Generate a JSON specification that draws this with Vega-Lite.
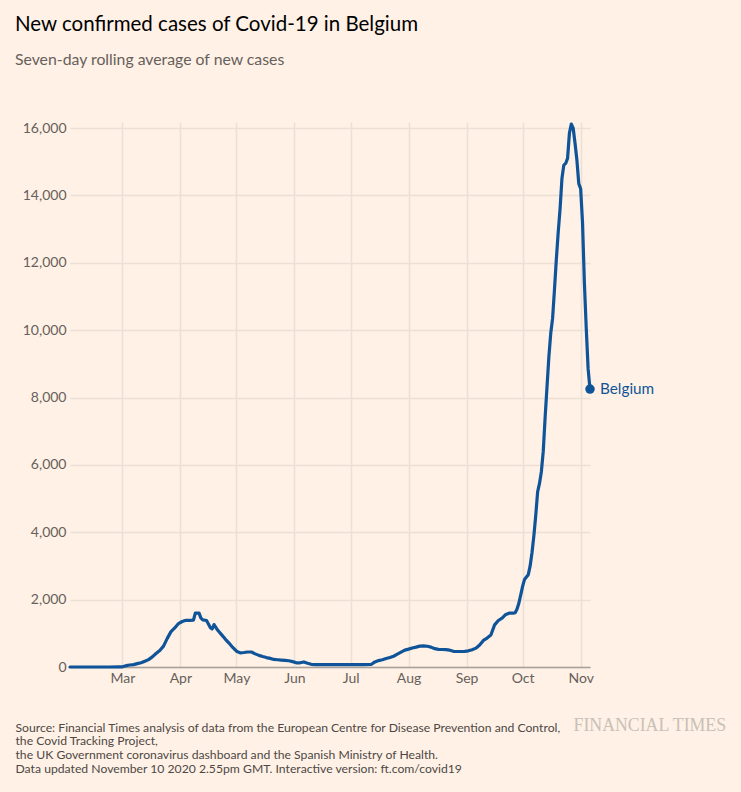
{
  "$schema": "https://vega.github.io/schema/vega-lite/v6.json",
  "width": 520,
  "height": 545,
  "autosize": {"type": "none"},
  "padding": {"left": 70, "top": 122, "right": 151, "bottom": 125},
  "background": "#FFF1E5",
  "title": {
    "text": "New confirmed cases of Covid-19 in Belgium",
    "subtitle": "Seven-day rolling average of new cases",
    "anchor": "start",
    "frame": "group",
    "dx": -55,
    "offset": 53,
    "font": "Lato",
    "fontSize": 20.5,
    "fontWeight": "normal",
    "color": "#000000",
    "subtitleFont": "Lato",
    "subtitleFontSize": 15.8,
    "subtitleColor": "#66605C",
    "subtitlePadding": 18
  },
  "data": {
    "values": [
      {"date": "2020-02-02", "cases": 0},
      {"date": "2020-02-09", "cases": 0},
      {"date": "2020-02-16", "cases": 0},
      {"date": "2020-02-23", "cases": 0},
      {"date": "2020-02-28", "cases": 2},
      {"date": "2020-03-01", "cases": 5},
      {"date": "2020-03-03", "cases": 40},
      {"date": "2020-03-05", "cases": 60},
      {"date": "2020-03-07", "cases": 70},
      {"date": "2020-03-09", "cases": 100},
      {"date": "2020-03-11", "cases": 125},
      {"date": "2020-03-13", "cases": 170},
      {"date": "2020-03-15", "cases": 220},
      {"date": "2020-03-17", "cases": 300},
      {"date": "2020-03-19", "cases": 400},
      {"date": "2020-03-21", "cases": 490},
      {"date": "2020-03-23", "cases": 620},
      {"date": "2020-03-25", "cases": 850},
      {"date": "2020-03-27", "cases": 1050},
      {"date": "2020-03-29", "cases": 1160},
      {"date": "2020-03-31", "cases": 1290},
      {"date": "2020-04-02", "cases": 1350},
      {"date": "2020-04-04", "cases": 1385},
      {"date": "2020-04-06", "cases": 1385},
      {"date": "2020-04-08", "cases": 1390},
      {"date": "2020-04-09", "cases": 1600},
      {"date": "2020-04-11", "cases": 1600},
      {"date": "2020-04-12", "cases": 1450},
      {"date": "2020-04-13", "cases": 1400},
      {"date": "2020-04-15", "cases": 1380},
      {"date": "2020-04-17", "cases": 1170},
      {"date": "2020-04-18", "cases": 1130},
      {"date": "2020-04-19", "cases": 1260},
      {"date": "2020-04-21", "cases": 1090},
      {"date": "2020-04-23", "cases": 960},
      {"date": "2020-04-25", "cases": 830},
      {"date": "2020-04-27", "cases": 710},
      {"date": "2020-04-29", "cases": 580},
      {"date": "2020-05-01", "cases": 470},
      {"date": "2020-05-03", "cases": 420},
      {"date": "2020-05-05", "cases": 430},
      {"date": "2020-05-07", "cases": 445},
      {"date": "2020-05-09", "cases": 445},
      {"date": "2020-05-11", "cases": 390},
      {"date": "2020-05-13", "cases": 345},
      {"date": "2020-05-15", "cases": 310},
      {"date": "2020-05-17", "cases": 280},
      {"date": "2020-05-19", "cases": 255},
      {"date": "2020-05-21", "cases": 225},
      {"date": "2020-05-23", "cases": 215},
      {"date": "2020-05-25", "cases": 205},
      {"date": "2020-05-27", "cases": 195},
      {"date": "2020-05-29", "cases": 185},
      {"date": "2020-05-31", "cases": 160},
      {"date": "2020-06-02", "cases": 125},
      {"date": "2020-06-04", "cases": 125},
      {"date": "2020-06-06", "cases": 150},
      {"date": "2020-06-08", "cases": 110},
      {"date": "2020-06-10", "cases": 80},
      {"date": "2020-06-12", "cases": 70},
      {"date": "2020-06-20", "cases": 70},
      {"date": "2020-06-30", "cases": 70},
      {"date": "2020-07-08", "cases": 70},
      {"date": "2020-07-12", "cases": 75},
      {"date": "2020-07-14", "cases": 150},
      {"date": "2020-07-16", "cases": 190},
      {"date": "2020-07-18", "cases": 215},
      {"date": "2020-07-20", "cases": 250},
      {"date": "2020-07-22", "cases": 280},
      {"date": "2020-07-24", "cases": 320},
      {"date": "2020-07-26", "cases": 380},
      {"date": "2020-07-28", "cases": 440},
      {"date": "2020-07-30", "cases": 500},
      {"date": "2020-08-01", "cases": 530},
      {"date": "2020-08-03", "cases": 565},
      {"date": "2020-08-05", "cases": 590},
      {"date": "2020-08-07", "cases": 620},
      {"date": "2020-08-09", "cases": 628},
      {"date": "2020-08-11", "cases": 615},
      {"date": "2020-08-13", "cases": 590},
      {"date": "2020-08-15", "cases": 545},
      {"date": "2020-08-17", "cases": 525},
      {"date": "2020-08-19", "cases": 520},
      {"date": "2020-08-21", "cases": 515},
      {"date": "2020-08-23", "cases": 500},
      {"date": "2020-08-25", "cases": 465},
      {"date": "2020-08-27", "cases": 460},
      {"date": "2020-08-29", "cases": 460},
      {"date": "2020-08-31", "cases": 465},
      {"date": "2020-09-02", "cases": 480},
      {"date": "2020-09-04", "cases": 515},
      {"date": "2020-09-06", "cases": 560},
      {"date": "2020-09-08", "cases": 650},
      {"date": "2020-09-10", "cases": 790},
      {"date": "2020-09-12", "cases": 860},
      {"date": "2020-09-14", "cases": 950},
      {"date": "2020-09-16", "cases": 1250},
      {"date": "2020-09-18", "cases": 1380},
      {"date": "2020-09-20", "cases": 1450},
      {"date": "2020-09-22", "cases": 1560},
      {"date": "2020-09-24", "cases": 1600},
      {"date": "2020-09-26", "cases": 1600},
      {"date": "2020-09-27", "cases": 1610},
      {"date": "2020-09-28", "cases": 1720},
      {"date": "2020-09-29", "cases": 1900},
      {"date": "2020-09-30", "cases": 2150},
      {"date": "2020-10-01", "cases": 2400},
      {"date": "2020-10-02", "cases": 2600},
      {"date": "2020-10-03", "cases": 2670},
      {"date": "2020-10-04", "cases": 2740},
      {"date": "2020-10-05", "cases": 3000},
      {"date": "2020-10-06", "cases": 3400},
      {"date": "2020-10-07", "cases": 3900},
      {"date": "2020-10-08", "cases": 4500},
      {"date": "2020-10-09", "cases": 5200},
      {"date": "2020-10-10", "cases": 5450},
      {"date": "2020-10-11", "cases": 5800},
      {"date": "2020-10-12", "cases": 6400},
      {"date": "2020-10-13", "cases": 7400},
      {"date": "2020-10-14", "cases": 8300},
      {"date": "2020-10-15", "cases": 9200},
      {"date": "2020-10-16", "cases": 9900},
      {"date": "2020-10-17", "cases": 10350},
      {"date": "2020-10-18", "cases": 11200},
      {"date": "2020-10-19", "cases": 12100},
      {"date": "2020-10-20", "cases": 12900},
      {"date": "2020-10-21", "cases": 13600},
      {"date": "2020-10-22", "cases": 14500},
      {"date": "2020-10-23", "cases": 14900},
      {"date": "2020-10-24", "cases": 14950},
      {"date": "2020-10-25", "cases": 15100},
      {"date": "2020-10-26", "cases": 15850},
      {"date": "2020-10-27", "cases": 16120},
      {"date": "2020-10-28", "cases": 16000},
      {"date": "2020-10-29", "cases": 15550},
      {"date": "2020-10-30", "cases": 15050},
      {"date": "2020-10-31", "cases": 14350},
      {"date": "2020-11-01", "cases": 14200},
      {"date": "2020-11-02", "cases": 13200},
      {"date": "2020-11-03", "cases": 11400},
      {"date": "2020-11-04", "cases": 10050},
      {"date": "2020-11-05", "cases": 8850},
      {"date": "2020-11-06", "cases": 8250}
    ]
  },
  "encoding": {
    "x": {
      "field": "date",
      "type": "temporal",
      "scale": {"type": "utc"},
      "axis": {
        "values": [
          {"year": 2020, "month": 3, "date": 1, "utc": true},
          {"year": 2020, "month": 4, "date": 1, "utc": true},
          {"year": 2020, "month": 5, "date": 1, "utc": true},
          {"year": 2020, "month": 6, "date": 1, "utc": true},
          {"year": 2020, "month": 7, "date": 1, "utc": true},
          {"year": 2020, "month": 8, "date": 1, "utc": true},
          {"year": 2020, "month": 9, "date": 1, "utc": true},
          {"year": 2020, "month": 10, "date": 1, "utc": true},
          {"year": 2020, "month": 11, "date": 1, "utc": true}
        ],
        "labelExpr": "utcFormat(datum.value, '%b')",
        "grid": true,
        "gridColor": "#EBE0D6",
        "gridWidth": 1.5,
        "ticks": false,
        "domain": true,
        "domainColor": "#A8A09A",
        "domainWidth": 1.5,
        "labelPadding": 4,
        "labelFont": "Lato",
        "labelFontSize": 14,
        "labelColor": "#66605C",
        "labelFlush": false,
        "labelOverlap": false,
        "title": [
          "Source: Financial Times analysis of data from the European Centre for Disease Prevention and Control,",
          "the Covid Tracking Project,",
          "the UK Government coronavirus dashboard and the Spanish Ministry of Health.",
          "Data updated November 10 2020 2.55pm GMT. Interactive version: ft.com/covid19"
        ],
        "titleX": -55,
        "titleY": 64,
        "titleAnchor": "start",
        "titleAlign": "left",
        "titleBaseline": "alphabetic",
        "titleAngle": 0,
        "titleFont": "Lato",
        "titleFontSize": 12.2,
        "titleFontWeight": "normal",
        "titleLineHeight": 13.7,
        "titleColor": "#4D4845"
      }
    },
    "y": {
      "field": "cases",
      "type": "quantitative",
      "scale": {"domain": [0, 16180], "nice": false, "zero": true},
      "axis": {
        "values": [0, 2000, 4000, 6000, 8000, 10000, 12000, 14000, 16000],
        "format": ",.0f",
        "grid": true,
        "gridColor": "#EBE0D6",
        "gridWidth": 1.5,
        "domain": false,
        "ticks": false,
        "labelPadding": 4,
        "labelFont": "Lato",
        "labelFontSize": 14,
        "labelColor": "#66605C",
        "title": "FINANCIAL TIMES",
        "titleX": 503,
        "titleY": 608,
        "titleAngle": 0,
        "titleAlign": "left",
        "titleAnchor": "start",
        "titleBaseline": "alphabetic",
        "titleFont": "Liberation Serif",
        "titleFontSize": 17.8,
        "titleFontWeight": "normal",
        "titleColor": "#C9C0B8"
      }
    }
  },
  "layer": [
    {
      "mark": {"type": "line", "color": "#0F5499", "strokeWidth": 3.2, "strokeJoin": "round", "strokeCap": "round"}
    },
    {
      "transform": [
        {"window": [{"op": "row_number", "as": "r"}], "sort": [{"field": "date", "order": "descending"}]},
        {"filter": "datum.r == 1"}
      ],
      "mark": {"type": "point", "filled": true, "size": 90, "color": "#0F5499", "opacity": 1}
    },
    {
      "transform": [
        {"window": [{"op": "row_number", "as": "r"}], "sort": [{"field": "date", "order": "descending"}]},
        {"filter": "datum.r == 1"}
      ],
      "mark": {"type": "text", "align": "left", "baseline": "middle", "dx": 10, "font": "Lato", "fontSize": 15.3, "color": "#0F5499"},
      "encoding": {"text": {"value": "Belgium"}}
    }
  ],
  "config": {"view": {"stroke": null}}
}
